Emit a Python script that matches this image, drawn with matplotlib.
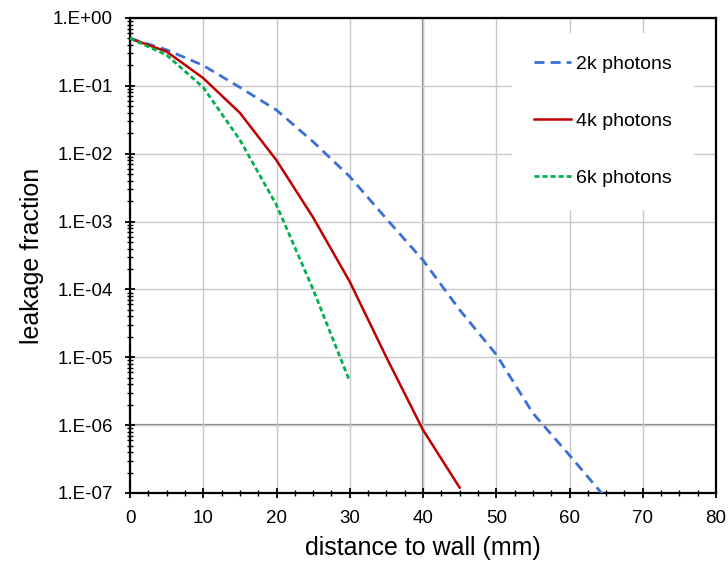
import numpy as np
import matplotlib
matplotlib.use("Agg")
import matplotlib.pyplot as plt
from matplotlib import ticker

plt.rcParams['font.family'] = ['Liberation Sans', 'DejaVu Sans']

# distance to wall (mm)
x_2k = [0, 5, 10, 15, 20, 25, 30, 35, 40, 45, 50, 55, 60, 65]
y_2k = [0.5, 0.34, 0.2, 0.095, 0.044, 0.015, 4.6e-3, 1.1e-3, 2.7e-4, 5.0e-5,
        1.1e-5, 1.5e-6, 3.6e-7, 8.3e-8]

x_4k = [0, 5, 10, 15, 20, 25, 30, 35, 40, 45]
y_4k = [0.5, 0.32, 0.13, 0.04, 8.0e-3, 1.15e-3, 1.3e-4, 1.0e-5, 8.5e-7, 1.2e-7]

x_6k = [0, 5, 10, 15, 20, 25, 30]
y_6k = [0.5, 0.285, 0.095, 0.016, 1.75e-3, 1.0e-4, 4.4e-6]

labels = ['2k photons', '4k photons', '6k photons']

fig = plt.figure(figsize=(7.28, 5.64), dpi=100)
ax = fig.add_axes([130/728, 71/564, 586/728, 475/564])

ax.set_yscale('log')
ax.set_xlim(0, 80)
ax.set_ylim(1e-7, 1)

# grid + reference lines
ax.grid(True, which='major', color='#c8c8c8', lw=1.0, zorder=0)
ax.axhline(1e-6, color='#808080', lw=1.6, zorder=1)
ax.axvline(40, color='#808080', lw=1.6, zorder=1)

ax.plot(x_2k, y_2k, color='#3a6fd8', lw=2.0, dashes=(3.6, 2.2), label=labels[0], zorder=3)
ax.plot(x_4k, y_4k, color='#c00000', lw=1.8, label=labels[1], zorder=3)
ax.plot(x_6k, y_6k, color='#00b050', lw=2.0, dashes=(1.8, 1.1), label=labels[2], zorder=3)

ax.xaxis.set_major_locator(ticker.MultipleLocator(10))
ax.xaxis.set_minor_locator(ticker.MultipleLocator(2.5))
ax.yaxis.set_major_locator(ticker.LogLocator(base=10, numticks=10))
ax.yaxis.set_minor_locator(ticker.LogLocator(base=10, subs=np.arange(2, 10), numticks=10))
ax.yaxis.set_minor_formatter(ticker.NullFormatter())
ax.yaxis.set_major_formatter(ticker.FuncFormatter(
    lambda v, p: "1.E{:+03d}".format(int(round(np.log10(v))))))

ax.tick_params(which='major', direction='inout', length=7, width=1.3, labelsize=13.5, color='black')
ax.tick_params(which='minor', direction='inout', length=5, width=1.0, color='black')
ax.tick_params(axis='x', which='major', pad=9)
ax.tick_params(axis='y', which='major', pad=9)

for s in ax.spines.values():
    s.set_color('black')
    s.set_linewidth(1.6)

ax.set_xlabel('distance to wall (mm)', fontsize=18, labelpad=6)
ax.set_ylabel('leakage fraction', fontsize=18, labelpad=6)

leg = ax.legend(loc='upper left', bbox_to_anchor=(382/586, 460/475), borderaxespad=0,
                frameon=True, fontsize=14, handlelength=1.9, handletextpad=0.25,
                labelspacing=2.03, borderpad=1.15, fancybox=False)
leg.get_frame().set_facecolor('white')
leg.get_frame().set_edgecolor('none')
leg.get_frame().set_alpha(1)

fig.savefig('out.png', dpi=100)
